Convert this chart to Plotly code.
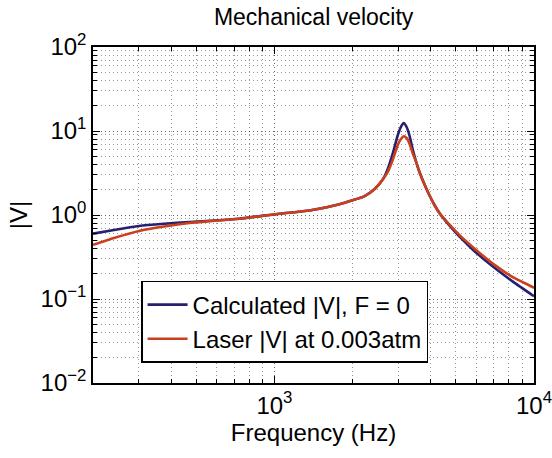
import plotly.graph_objects as go

# Frequency samples (Hz) and velocity magnitudes
freq_calc = [200, 241, 301, 376, 470, 587, 732, 1045, 1365, 1782, 2226, 2433,
             2620, 2731, 2862, 2992, 3079, 3148, 3234, 3320, 3410, 3525, 3630,
             3795, 3968, 4147, 4336, 4740, 5179, 5830, 6963, 8318, 10000]
v_calc = [0.600, 0.664, 0.740, 0.786, 0.826, 0.860, 0.904, 1.036, 1.131, 1.340,
          1.681, 2.035, 2.675, 3.515, 5.49, 9.08, 11.38, 12.46, 11.08, 8.66,
          6.07, 4.18, 3.18, 2.27, 1.681, 1.297, 1.042, 0.740, 0.548, 0.384,
          0.2415, 0.160, 0.108]

freq_laser = [200, 241, 301, 376, 470, 587, 732, 1045, 1365, 1782, 2226, 2433,
              2620, 2731, 2862, 2992, 3079, 3148, 3234, 3320, 3410, 3525, 3630,
              3795, 3968, 4147, 4336, 4740, 5179, 5830, 6963, 8318, 9200, 10000]
v_laser = [0.441, 0.533, 0.646, 0.730, 0.803, 0.853, 0.904, 1.036, 1.131, 1.340,
           1.681, 2.035, 2.675, 3.238, 4.62, 6.91, 8.09, 8.66, 8.20, 6.96,
           5.44, 4.18, 3.18, 2.27, 1.681, 1.297, 1.042, 0.761, 0.571, 0.411,
           0.262, 0.181, 0.155, 0.136]

x_tick_vals = [1000, 10000]
x_tick_text = ["10<sup>3</sup>", "10<sup>4</sup>"]
y_tick_vals = [0.01, 0.1, 1, 10, 100]
y_tick_text = ["10<sup>\u22122</sup>", "10<sup>\u22121</sup>", "10<sup>0</sup>",
               "10<sup>1</sup>", "10<sup>2</sup>"]

x_minor = [m * 10 ** e for e in (2, 3) for m in range(2, 10) if m * 10 ** e >= 200]
y_minor = [m * 10.0 ** e for e in (-2, -1, 0, 1) for m in range(2, 10)]

FONT = "Liberation Sans, Arial, Helvetica, sans-serif"

fig = go.Figure()
fig.add_trace(go.Scatter(
    x=freq_calc, y=v_calc, mode="lines", name="Calculated |V|, F = 0",
    line=dict(color="#27206e", width=2.6, shape="spline", smoothing=0.5),
))
fig.add_trace(go.Scatter(
    x=freq_laser, y=v_laser, mode="lines", name="Laser |V| at 0.003atm",
    line=dict(color="#c9401e", width=2.6, shape="spline", smoothing=0.5),
))

axis_common = dict(
    type="log", automargin=False, ticklabeloverflow="allow",
    showline=True, linecolor="black", linewidth=1.5, mirror="allticks",
    ticks="inside", ticklen=7, tickcolor="black", tickwidth=1,
    showgrid=True, gridcolor="rgba(0,0,0,0.6)", griddash="1px,3px", gridwidth=1,
    zeroline=False,
    tickfont=dict(family=FONT, size=24, color="black"),
    tickmode="array",
)

minor_common = dict(
    tickmode="array", ticks="inside", ticklen=4, tickcolor="black",
    showgrid=True, gridcolor="rgba(0,0,0,0.4)", griddash="1px,3px",
)

fig.update_xaxes(
    **axis_common,
    range=[2.301, 4.0001],
    tickvals=x_tick_vals, ticktext=x_tick_text,
    minor=dict(tickvals=x_minor, **minor_common),
    title=dict(text="Frequency (Hz)", font=dict(family=FONT, size=24, color="black"),
               standoff=6),
)
fig.update_yaxes(
    **axis_common,
    range=[-2, 2],
    tickvals=y_tick_vals, ticktext=y_tick_text,
    minor=dict(tickvals=y_minor, **minor_common),
    title=dict(text="|V|", font=dict(family=FONT, size=24, color="black"),
               standoff=6),
)

fig.update_layout(
    width=552, height=458,
    margin=dict(l=93, r=18, t=47, b=75),
    paper_bgcolor="white", plot_bgcolor="white",
    title=dict(text="Mechanical velocity", x=0.5682, xanchor="center",
               y=0.962, yanchor="middle",
               font=dict(family=FONT, size=23, color="black")),
    legend=dict(
        x=0.109, y=0.3036, xanchor="left", yanchor="top",
        bgcolor="white", bordercolor="black", borderwidth=1.5,
        font=dict(family=FONT, size=24, color="black"),
        tracegroupgap=0, itemwidth=40,
    ),
    showlegend=True,
)

fig.write_html("out.html")
